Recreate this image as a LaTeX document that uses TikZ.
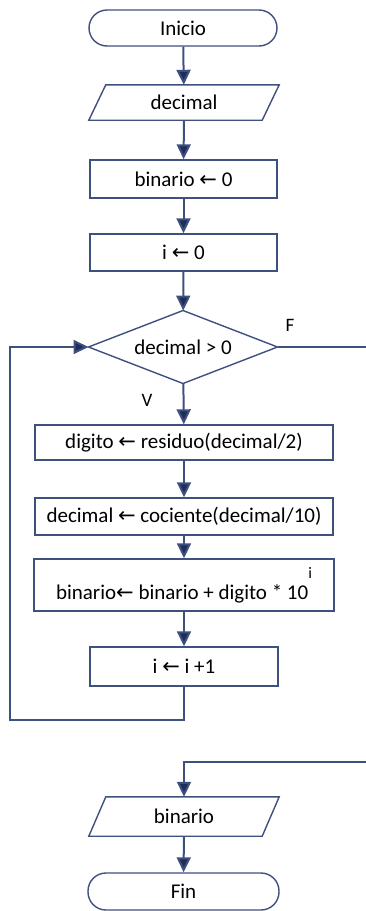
\documentclass[tikz,border=0pt]{standalone}
\usepackage{fontspec}
\setmainfont{Carlito}
\newfontfamily\arrfont{DejaVu Sans}
\usetikzlibrary{arrows.meta,shapes.geometric}
\definecolor{navy}{RGB}{31,45,92}
\definecolor{edge}{RGB}{62,80,125}
\newcommand{\la}{{\arrfont ←}}
\begin{document}
\begin{tikzpicture}[x=1pt,y=-1pt,
  every node/.style={font=\fontsize{21}{24}\selectfont, text=black},
  term/.style={draw=edge, line width=1.4pt, rounded corners=18pt, minimum height=36pt, inner sep=0pt},
  procbox/.style={draw=edge, line width=1.4pt, inner sep=0pt},
  iobox/.style={inner sep=0pt},
  decbox/.style={draw=edge, line width=1.4pt, diamond, aspect=2.6, inner sep=0pt, outer sep=0pt, minimum width=189pt, minimum height=73pt},
  conn/.style={draw=edge, line width=2pt},
  arr/.style={conn, -{Triangle[width=14pt,length=15pt,fill=navy]}},
  lbl/.style={font=\fontsize{19}{22}\selectfont}
]
\useasboundingbox (0,0) rectangle (366,911);
\node[term, minimum width=188pt] (start) at (183,28) {Inicio};
\node[iobox, minimum width=190pt, minimum height=35pt] (in1) at (184,102.5) {decimal};
\draw[edge, line width=1.4pt] ([xshift=17pt]in1.north west) -- (in1.north east) -- ([xshift=-17pt]in1.south east) -- (in1.south west) -- cycle;
\node[procbox, minimum width=187pt, minimum height=38pt] (b0) at (183.5,179) {binario \la{} 0};
\node[procbox, minimum width=187pt, minimum height=37pt] (i0) at (183.5,252.5) {i \la{} 0};
\node[decbox] (dec) at (183,347) {decimal > 0};
\node[procbox, minimum width=298pt, minimum height=35pt] (dig) at (184,442.5) {digito \la{} residuo(decimal/2)};
\node[procbox, minimum width=298pt, minimum height=37pt] (coc) at (184,516.5) {decimal \la{} cociente(decimal/10)};
\node[procbox, minimum width=300pt, minimum height=52pt] (bin) at (184,585) {binario\la{} binario + digito * 10\raisebox{21pt}{\fontsize{16}{18}\selectfont i}};
\node[procbox, minimum width=188pt, minimum height=39pt] (inc) at (184,666.5) {i \la{} i +1};
\node[iobox, minimum width=190pt, minimum height=39pt] (out) at (184,816.5) {binario};
\draw[edge, line width=1.4pt] ([xshift=17pt]out.north west) -- (out.north east) -- ([xshift=-17pt]out.south east) -- (out.south west) -- cycle;
\node[term, minimum width=191pt, minimum height=37pt] (fin) at (183.5,891.5) {Fin};
\node[lbl] (lf) at (290,325) {F};
\node[lbl] (lv) at (147,400) {V};
\coordinate (l1) at (184,720);
\coordinate (l2) at (10,720);
\coordinate (l3) at (10,347);
\coordinate (r1) at (366,347);
\coordinate (r2) at (366,762);
\coordinate (r3) at (184,762);
\draw[arr] (start) -- (in1);
\draw[arr] (in1) -- (b0);
\draw[arr] (b0) -- (i0);
\draw[arr] (i0) -- (dec);
\draw[arr] (dec) -- (dig);
\draw[arr] (dig) -- (coc);
\draw[arr] (coc) -- (bin);
\draw[arr] (bin) -- (inc);
\draw[arr] (inc.south) -- (l1) -- (l2) -- (l3) -- (dec.west);
\draw[conn] (dec.east) -- (r1);
\draw[arr] (r2) -- (r3) -- (out.north);
\draw[arr] (out) -- (fin);
\end{tikzpicture}
\end{document}
